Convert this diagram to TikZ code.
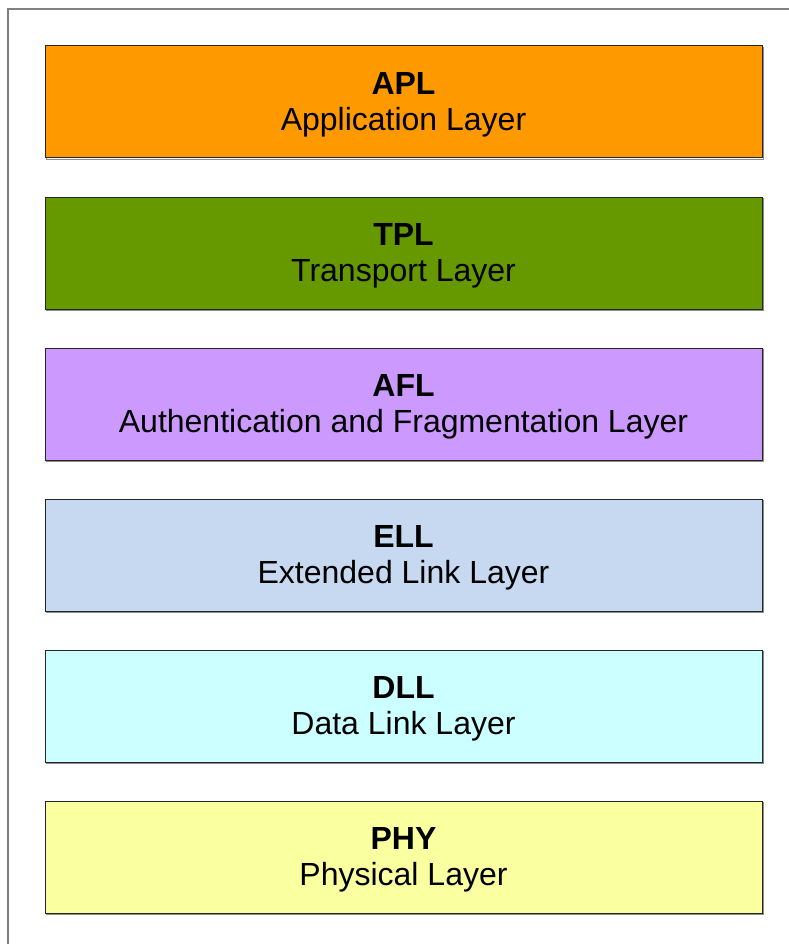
\documentclass[tikz,border=0pt]{standalone}
\usepackage{fontspec}
\setmainfont{Liberation Sans}
\definecolor{aplfill}{HTML}{FF9900}
\definecolor{tplfill}{HTML}{669900}
\definecolor{aflfill}{HTML}{CC99FF}
\definecolor{ellfill}{HTML}{C6D9F1}
\definecolor{dllfill}{HTML}{CCFFFF}
\definecolor{phyfill}{HTML}{FAFFA0}
\definecolor{framegray}{HTML}{808080}
% strut that sets the top of each label a little higher
\newcommand{\toplinestrut}{\rule{0pt}{27pt}}
\begin{document}
\begin{tikzpicture}[x=1pt,y=-1pt,
  layerbox/.style={draw=black!85, line width=1pt, minimum width=717pt, minimum height=112pt,
    inner sep=0pt, align=center, font=\fontsize{32}{36}\selectfont,
    preaction={draw=black!45, line width=1pt, transform canvas={xshift=1.2pt,yshift=-1.2pt}}},
  outerframe/.style={draw=framegray, line width=1.5pt}]
  \useasboundingbox (0,0) rectangle (788,944);
  % surrounding frame, running past the right and bottom edges
  \draw[outerframe] (8,9) rectangle (820,980);
  % protocol stack, top to bottom
  \node[layerbox, fill=aplfill] (apl) at (403.5,102) {\toplinestrut\textbf{APL}\\Application Layer};
  \node[layerbox, fill=tplfill] (tpl) at (403.5,253) {\toplinestrut\textbf{TPL}\\Transport Layer};
  \node[layerbox, fill=aflfill] (afl) at (403.5,404) {\toplinestrut\textbf{AFL}\\Authentication and Fragmentation Layer};
  \node[layerbox, fill=ellfill] (ell) at (403.5,555) {\toplinestrut\textbf{ELL}\\Extended Link Layer};
  \node[layerbox, fill=dllfill] (dll) at (403.5,706) {\toplinestrut\textbf{DLL}\\Data Link Layer};
  \node[layerbox, fill=phyfill] (phy) at (403.5,857) {\toplinestrut\textbf{PHY}\\Physical Layer};
\end{tikzpicture}
\end{document}
